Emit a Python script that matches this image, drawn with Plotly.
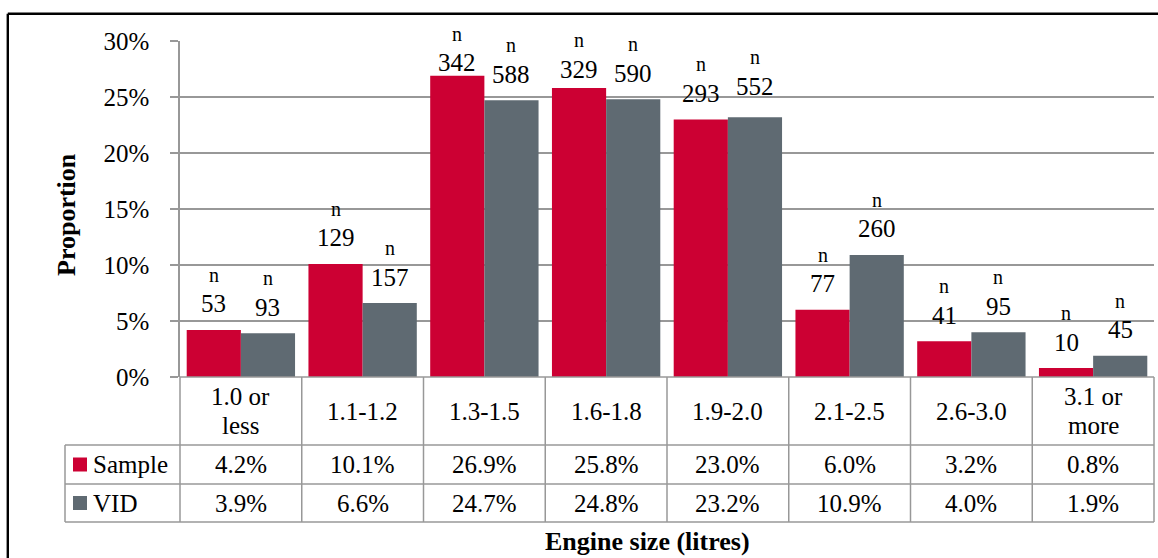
import plotly.graph_objects as go

# ---- data -------------------------------------------------------------
categories = ["1.0 or<br>less", "1.1-1.2", "1.3-1.5", "1.6-1.8",
              "1.9-2.0", "2.1-2.5", "2.6-3.0", "3.1 or<br>more"]
sample_pct = [4.2, 10.1, 26.9, 25.8, 23.0, 6.0, 3.2, 0.8]
vid_pct = [3.9, 6.6, 24.7, 24.8, 23.2, 10.9, 4.0, 1.9]
sample_n = [53, 129, 342, 329, 293, 77, 41, 10]
vid_n = [93, 157, 588, 590, 552, 260, 95, 45]
series_names = ["Sample", "VID"]
y_tick_pct = [0, 5, 10, 15, 20, 25, 30]

# ---- style ------------------------------------------------------------
W, H = 1158, 558
ML, MR, MT, MB = 180, 4, 41, 181
PLOT_W = W - ML - MR
PLOT_H = H - MT - MB
FONT = "Liberation Serif, Times New Roman, serif"
RED = "#CC0033"
GREY = "#5F6A72"
LINE = "#989898"
BARGAP = 0.11
colors = [RED, GREY]

# vertical lift (px) of each count label above its bar; a few are nudged
default_lift = 26
lift_override = {(0, 2): 13, (0, 3): 19, (1, 4): 31}


def px_x(px):
    return (px - ML) / PLOT_W


def px_y(py):
    return (H - MB - py) / PLOT_H


series_pct = [sample_pct, vid_pct]
series_n = [sample_n, vid_n]

fig = go.Figure()
for name, pct, col in zip(series_names, series_pct, colors):
    fig.add_trace(go.Bar(
        x=categories, y=[v / 100 for v in pct], name=name,
        marker=dict(color=col, line=dict(width=0)),
        hoverinfo="skip",
    ))

annotations = []
shapes = []

# count labels ("n" over the count) above each bar
half = (1 - BARGAP) / 4
for s, (pct, counts) in enumerate(zip(series_pct, series_n)):
    dx = -half if s == 0 else half
    for i, (v, c) in enumerate(zip(pct, counts)):
        lift = lift_override.get((s, i), default_lift)
        annotations.append(dict(
            x=i + dx, y=v / 100, xref="x", yref="y", text=str(c),
            showarrow=False, yanchor="middle", xanchor="center",
            yshift=lift, font=dict(family=FONT, size=25, color="black")))
        annotations.append(dict(
            x=i + dx, y=v / 100, xref="x", yref="y", text="n",
            showarrow=False, yanchor="middle", xanchor="center",
            yshift=lift + 29, font=dict(family=FONT, size=20, color="black")))

# ---- data table under the plot ---------------------------------------
n_cat = len(categories)
top, hdr_bot, row1_bot, row2_bot = 377, 445, 484, 522
leg_left = 65


def hline(py, x0px, x1px, width=1.5):
    shapes.append(dict(type="line", xref="paper", yref="paper",
                       x0=px_x(x0px), x1=px_x(x1px), y0=px_y(py), y1=px_y(py),
                       line=dict(color=LINE, width=width)))


def vline(xp, py0, py1, width=1.5):
    shapes.append(dict(type="line", xref="paper", yref="paper",
                       x0=xp, x1=xp, y0=px_y(py0), y1=px_y(py1),
                       line=dict(color=LINE, width=width)))


hline(top, ML, W - MR)
for py in (hdr_bot, row1_bot, row2_bot):
    hline(py, leg_left, W - MR)
for i in range(n_cat + 1):
    vline(i / n_cat, top, row2_bot)
vline(px_x(leg_left), hdr_bot, row2_bot)

# header row: category names
hdr_mid = (top + hdr_bot) / 2
for i, cat in enumerate(categories):
    lines = cat.split("<br>")
    step = 28.5
    first = hdr_mid - step * (len(lines) - 1) / 2
    for k, ln in enumerate(lines):
        annotations.append(dict(
            x=(i + 0.5) / n_cat, y=px_y(first + k * step), xref="paper",
            yref="paper", text=ln, showarrow=False, xanchor="center",
            yanchor="middle", font=dict(family=FONT, size=25, color="black")))

# value rows with legend keys
row_mids = [(hdr_bot + row1_bot) / 2, (row1_bot + row2_bot) / 2]
for name, pct, col, ym in zip(series_names, series_pct, colors, row_mids):
    shapes.append(dict(type="rect", xref="paper", yref="paper",
                       x0=px_x(73), x1=px_x(87), y0=px_y(ym - 7), y1=px_y(ym + 7),
                       fillcolor=col, line=dict(width=0)))
    annotations.append(dict(
        x=px_x(91), y=px_y(ym), xref="paper", yref="paper", text=name,
        showarrow=False, xanchor="left", yanchor="middle",
        font=dict(family=FONT, size=25, color="black")))
    for i, v in enumerate(pct):
        annotations.append(dict(
            x=(i + 0.5) / n_cat, y=px_y(ym), xref="paper", yref="paper",
            text=f"{v:.1f}%", showarrow=False, xanchor="center",
            yanchor="middle", font=dict(family=FONT, size=25, color="black")))

# axis titles
annotations.append(dict(
    x=px_x(67), y=px_y(215), xref="paper", yref="paper", text="<b>Proportion</b>",
    textangle=-90, showarrow=False, xanchor="center", yanchor="middle",
    font=dict(family=FONT, size=26, color="black")))
annotations.append(dict(
    x=px_x(647), y=px_y(541), xref="paper", yref="paper",
    text="<b>Engine size (litres)</b>", showarrow=False, xanchor="center",
    yanchor="middle", font=dict(family=FONT, size=26, color="black")))

# chart frame (top and left edges)
frame_x, frame_y = 7.8, 13.8
shapes.append(dict(type="line", xref="paper", yref="paper",
                   x0=px_x(frame_x), x1=px_x(W + 5), y0=px_y(frame_y), y1=px_y(frame_y),
                   line=dict(color="black", width=2.4)))
shapes.append(dict(type="line", xref="paper", yref="paper",
                   x0=px_x(frame_x), x1=px_x(frame_x), y0=px_y(frame_y), y1=px_y(H + 5),
                   line=dict(color="black", width=2.4)))

fig.update_layout(
    width=W, height=H,
    margin=dict(l=ML, r=MR, t=MT, b=MB, pad=0),
    paper_bgcolor="white", plot_bgcolor="white",
    barmode="group", bargap=BARGAP, bargroupgap=0,
    showlegend=False,
    font=dict(family=FONT, color="black"),
    annotations=annotations, shapes=shapes,
    xaxis=dict(type="category", range=[-0.5, n_cat - 0.5], showticklabels=False,
               showgrid=False, zeroline=False, showline=False, ticks=""),
    yaxis=dict(range=[0, 0.30], tickvals=[t / 100 for t in y_tick_pct],
               ticktext=[f"{t}%" for t in y_tick_pct],
               tickfont=dict(family=FONT, size=25, color="black"),
               showgrid=True, gridcolor=LINE, gridwidth=1.5,
               zeroline=False, showline=True, linecolor=LINE, linewidth=1.5,
               ticks="outside", ticklen=8, tickcolor=LINE, tickwidth=1.5,
               ticklabelstandoff=16),
)

fig.write_html("out.html")
